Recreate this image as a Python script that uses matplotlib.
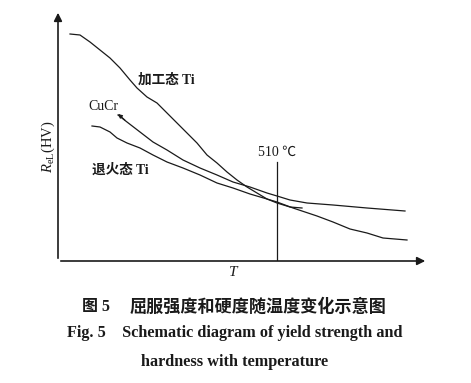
import matplotlib
matplotlib.use("Agg")
import matplotlib.pyplot as plt

plt.rcParams['font.family'] = ['Liberation Serif', 'Noto Sans CJK SC', 'DejaVu Sans']
plt.rcParams['mathtext.fontset'] = 'custom'
plt.rcParams['mathtext.rm'] = 'Liberation Serif'
plt.rcParams['mathtext.it'] = 'Liberation Serif:italic'

# --- data (schematic, arbitrary units) ---
work_T = [12, 22, 32, 42, 52, 62, 72, 79, 89, 99, 109, 119, 129, 139, 149, 159,
          169, 179, 189, 199, 209, 219, 232, 244]
work_R = [227, 226, 219, 211, 203, 193, 181, 173, 164, 158, 148, 138, 128, 118, 106, 98,
          89, 81, 74, 68, 62, 58, 54, 53]

cucr_T = [60, 69, 82, 95, 109, 125, 142, 159, 175, 192, 209, 219, 232, 249, 275, 309, 347]
cucr_R = [146, 139, 129, 119, 111, 101, 93, 86, 79, 74, 68, 65, 61, 58, 56, 53, 50]

anneal_T = [34, 42, 52, 59, 69, 82, 95, 109, 125, 142, 159, 175, 192, 209, 219, 235,
            259, 275, 292, 309, 325, 349]
anneal_R = [135, 134, 129, 123, 118, 113, 106, 99, 93, 86, 78, 73, 67, 62, 59, 53,
            45, 39, 32, 28, 23, 21]

T_510 = 219
line_510_top = 99

W, H = 471, 383
fig = plt.figure(figsize=(W / 100, H / 100), dpi=100)
ax = fig.add_axes([58 / W, (H - 261) / H, (428 - 58) / W, (261 - 10) / H])
ax.set_xlim(0, 370)
ax.set_ylim(0, 251)
for s in ax.spines.values():
    s.set_visible(False)
ax.set_xticks([])
ax.set_yticks([])

lc = '#1a1a1a'
ax.plot(work_T, work_R, color=lc, lw=0.9)
ax.plot(cucr_T, cucr_R, color=lc, lw=0.9)
ax.plot(anneal_T, anneal_R, color=lc, lw=0.9)
ax.plot([T_510, T_510], [0, line_510_top], color=lc, lw=0.9)

# small arrow at the CuCr curve start
ax.annotate('', xy=(cucr_T[0] - 2, cucr_R[0] + 3), xytext=(cucr_T[1], cucr_R[1]),
            arrowprops=dict(arrowstyle='-|>', color=lc, lw=0.8, mutation_scale=6))

# axes with arrows
ax.annotate('', xy=(0, 1), xytext=(0, 0), xycoords='axes fraction',
            arrowprops=dict(arrowstyle='-|>', color=lc, lw=1.2, mutation_scale=12), annotation_clip=False)
ax.annotate('', xy=(1, 0), xytext=(0, 0), xycoords='axes fraction',
            arrowprops=dict(arrowstyle='-|>', color=lc, lw=1.2, mutation_scale=12), annotation_clip=False)

mix = ['Liberation Serif', 'Noto Sans CJK SC', 'DejaVu Sans']
cjk = ['Noto Sans CJK SC', 'DejaVu Sans']
ax.text(80, 181, '加工态 Ti', family=mix, fontsize=9.8, weight='bold', va='center', ha='left', color=lc)
ax.text(30, 155, 'CuCr', fontsize=10, va='center', ha='left', color=lc)
ax.text(34, 91, '退火态 Ti', family=mix, fontsize=9.8, weight='bold', va='center', ha='left', color=lc)
ax.text(T_510, 109, '510 ℃', fontsize=10, va='center', ha='center', color=lc)
ax.text(175, -11, 'T', fontsize=11, style='italic', va='center', ha='center', color=lc, clip_on=False)
ax.text(-10, 114, r'$R_{\mathrm{eL}}$(HV)', fontsize=10.5, rotation=90, va='center', ha='center', color=lc)

fig.text(82 / W, 1 - 307 / H, '图 5', family=mix, fontsize=11.5, weight='bold',
         ha='left', va='center', color=lc)
fig.text(130 / W, 1 - 307 / H, '屈服强度和硬度随温度变化示意图', family=cjk,
         fontsize=12.3, weight='bold', ha='left', va='center', color=lc)
fig.text(0.498, 1 - 333 / H, 'Fig. 5    Schematic diagram of yield strength and',
         fontsize=11.7, weight='bold', ha='center', va='center', color=lc)
fig.text(0.498, 1 - 362 / H, 'hardness with temperature',
         fontsize=11.7, weight='bold', ha='center', va='center', color=lc)

fig.savefig('out.png', dpi=100)
